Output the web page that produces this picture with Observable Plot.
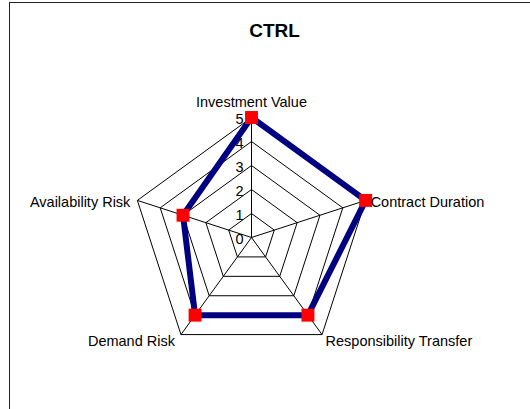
<!DOCTYPE html>
<html>
<head>
<meta charset="utf-8">
<script src="https://cdn.jsdelivr.net/npm/d3@7"></script>
<script src="https://cdn.jsdelivr.net/npm/@observablehq/plot@0.6"></script>
<style>
  html, body { margin: 0; padding: 0; background: #fff; }
  #wrap { position: relative; width: 530px; height: 409px; overflow: hidden; }
  #border { position: absolute; left: 9px; top: 2px; width: 600px; height: 600px; border: 1.5px solid #222; box-sizing: border-box; }
  #chart { position: absolute; left: 0; top: 0; }
  svg { font-family: "Liberation Sans", Arial, sans-serif; }
</style>
</head>
<body>
<div id="wrap"><div id="border"></div><div id="chart"></div></div>
<script>
// ---- data ----
const title = "CTRL";
const categories = ["Investment Value", "Contract Duration", "Responsibility Transfer", "Demand Risk", "Availability Risk"];
const values = [5, 5, 4, 4, 3];
const tickLevels = [0, 1, 2, 3, 4, 5];
const maxLevel = 5;

// ---- geometry helpers (angles from data index) ----
const n = categories.length;
const angle = i => Math.PI / 2 - (2 * Math.PI * i) / n;
const pt = (i, r) => ({ x: r * Math.cos(angle(i)), y: r * Math.sin(angle(i)) });

// grid pentagons
const grid = [];
for (const lvl of tickLevels.filter(l => l > 0)) {
  for (let k = 0; k <= n; k++) {
    const p = pt(k % n, lvl);
    grid.push({ level: lvl, x: p.x, y: p.y });
  }
}
// spokes
const spokes = categories.map((c, i) => { const p = pt(i, maxLevel); return { x1: 0, y1: 0, x2: p.x, y2: p.y }; });
// series polygon
const series = [];
for (let k = 0; k <= n; k++) { const p = pt(k % n, values[k % n]); series.push({ x: p.x, y: p.y }); }
const dots = values.map((v, i) => ({ ...pt(i, v), v }));
// labels at outer vertices
const labels = categories.map((c, i) => ({ ...pt(i, maxLevel), name: c, i }));

const font = 14.5;
const labelMark = (idx, opts) => Plot.text(labels.filter(d => d.i === idx), {
  x: "x", y: "y", text: "name", fontSize: font, fill: "#000", ...opts
});

const chart = Plot.plot({
  width: 530,
  height: 409,
  margin: 0,
  style: { background: "transparent", fontFamily: "Liberation Sans, Arial, sans-serif" },
  x: { domain: [-251 / 24, 279 / 24], range: [0, 530], axis: null },
  y: { domain: [-172 / 24, 237 / 24], range: [409, 0], axis: null },
  marks: [
    Plot.line(grid, { x: "x", y: "y", z: "level", stroke: "#000", strokeWidth: 1, curve: "linear" }),
    Plot.link(spokes, { x1: "x1", y1: "y1", x2: "x2", y2: "y2", stroke: "#000", strokeWidth: 1 }),
    Plot.text(tickLevels, { x: () => 0, y: d => d, text: d => String(d), textAnchor: "end", dx: -8, dy: 2, fontSize: font, fill: "#000" }),
    Plot.line(series, { x: "x", y: "y", stroke: "#000080", strokeWidth: 6, strokeLinejoin: "miter", curve: "linear" }),
    Plot.dot(dots, { x: "x", y: "y", symbol: "square", r: 7.3, fill: "#ff0000", stroke: null }),
    labelMark(0, { textAnchor: "middle", dy: -15 }),
    labelMark(1, { textAnchor: "start", dx: 5, dy: 1.5 }),
    labelMark(2, { textAnchor: "start", dx: 3.5, dy: 7 }),
    labelMark(3, { textAnchor: "end", dx: -6, dy: 7 }),
    labelMark(4, { textAnchor: "end", dx: -7, dy: 1.5 }),
    Plot.text([title], { frameAnchor: "top", dx: 9, dy: 23, text: d => d, fontSize: 19, fontWeight: "bold", fill: "#000" })
  ]
});
document.getElementById("chart").appendChild(chart);
</script>
</body>
</html>
